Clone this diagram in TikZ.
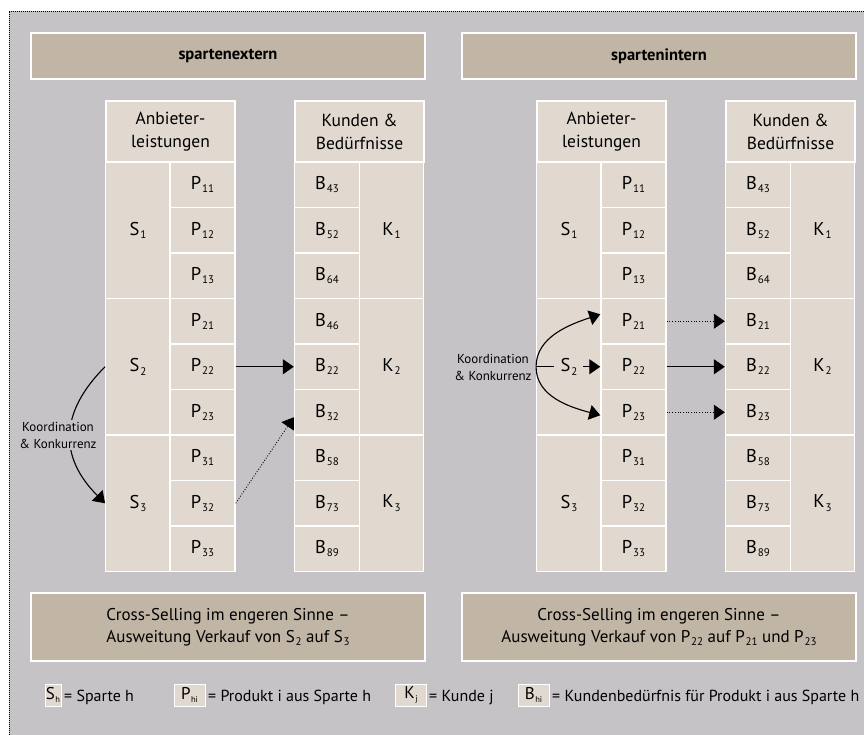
\documentclass[tikz,border=0pt]{standalone}
\usepackage{fontspec}
\setmainfont{PT Sans}
\usetikzlibrary{arrows.meta}
\definecolor{bggray}{RGB}{197,195,197}
\definecolor{tanbox}{RGB}{193,181,166}
\definecolor{cellfill}{RGB}{225,217,208}
\newcommand{\subidx}[1]{\kern0.8pt\raisebox{-3.4pt}{\fontsize{11}{11}\selectfont #1}}
\newcommand{\legidx}[1]{\kern0.5pt\raisebox{-3pt}{\fontsize{8.5}{8.5}\selectfont #1}}
\tikzset{
  cell/.style={draw=white, line width=1.4pt, fill=cellfill, inner sep=0pt,
    font=\fontsize{18.5}{23}\selectfont, align=center},
  pcell/.style={cell, minimum width=65pt, minimum height=45.5pt},
  scell/.style={cell, minimum width=64.5pt, minimum height=136.5pt},
  hcell/.style={cell, minimum width=129pt, minimum height=61pt, font=\fontsize{17.5}{23}\selectfont},
  titlebox/.style={draw=white, line width=1.4pt, fill=tanbox, minimum width=394pt, inner sep=0pt, align=center},
  legbox/.style={cell, line width=1pt, minimum height=22pt, font=\fontsize{17}{17}\selectfont},
  legtext/.style={anchor=base west, inner sep=0pt, font=\fontsize{16}{16}\selectfont},
  arr/.style={line width=1.1pt, -{Triangle[length=11pt,width=15pt]}},
  dotarr/.style={arr, line width=0.9pt, dash pattern=on 0.9pt off 1.8pt},
  note/.style={font=\fontsize{13}{17}\selectfont, align=center, inner sep=1.5pt},
  frame/.style={line width=0.8pt, dash pattern=on 0.8pt off 1.2pt}
}
\begin{document}
\begin{tikzpicture}[x=1pt, y=-1pt]
  \useasboundingbox (0,0) rectangle (864,735);
  \fill[bggray] (9,11) rectangle (864,735);
  \draw[frame] (864,11) -- (9,11) -- (9,735);
%
  \node[titlebox, minimum height=46pt, font=\bfseries\fontsize{16.5}{18}\selectfont] (ltop) at (228,56) {spartenextern};
  \node[titlebox, minimum height=46pt, font=\bfseries\fontsize{16.5}{18}\selectfont] (rtop) at (659,56) {spartenintern};
%
  \foreach \pn/\dx in {l/0, r/431} {
    \node[hcell] (\pn anb) at (170.5+\dx,131.5) {Anbieter-\\leistungen};
    \node[hcell] (\pn kun) at (359.5+\dx,131.5) {Kunden \&\\Bedürfnisse};
    \foreach \s in {1,2,3} {
      \node[scell] (\pn S\s) at (138+\dx,{162+(3*\s-1.5)*45.5}) {S\subidx{\s}};
      \node[scell] (\pn K\s) at (391.5+\dx,{162+(3*\s-1.5)*45.5}) {K\subidx{\s}};
      \foreach \p in {1,2,3}
        \node[pcell] (\pn P\s\p) at (202.5+\dx,{162+(3*\s+\p-3.5)*45.5}) {P\subidx{\s\p}};
    }
  }
  \foreach \b [count=\i] in {43,52,64,46,22,32,58,73,89}
    \node[pcell] (lB\b) at (327,{162+(\i-0.5)*45.5}) {B\subidx{\b}};
  \foreach \b [count=\i] in {43,52,64,21,22,23,58,73,89}
    \node[pcell] (rB\b) at (758,{162+(\i-0.5)*45.5}) {B\subidx{\b}};
%
  \draw[arr] (lP22.east) -- (lB22.west);
  \draw[dotarr] (lP32.east) -- ([yshift=-5pt]lB32.west);
  \draw[arr] (lS2.west) .. controls +(-46,46) and +(-46,-46) .. (lS3.west);
  \node[note, fill=bggray] (lkoo) at (58,435) {Koordination\\\& Konkurrenz};
%
  \node[note] (rkoo) at (493,367) {Koordination\\\& Konkurrenz};
  \draw[arr] (rS2.west) .. controls +(0,-30) and +(-30,10) .. ([yshift=7pt]rP21.west);
  \draw[arr] (rS2.west) .. controls +(0,30) and +(-30,-8) .. ([yshift=-3pt]rP23.west);
  \draw[line width=1.1pt] (rS2.west) -- +(18,0);
  \draw[arr] ([xshift=-17pt]rP22.west) -- (rP22.west);
  \draw[dotarr] (rP21.east) -- (rB21.west);
  \draw[arr] (rP22.east) -- (rB22.west);
  \draw[dotarr] (rP23.east) -- (rB23.west);
%
  \node[titlebox, minimum height=68pt, font=\fontsize{17}{22}\selectfont] (lbot) at (228,627)
    {Cross-Selling im engeren Sinne --\\Ausweitung Verkauf von S\subidx{2} auf S\subidx{3}};
  \node[titlebox, minimum height=68pt, font=\fontsize{17}{22}\selectfont] (rbot) at (659,627)
    {Cross-Selling im engeren Sinne --\\Ausweitung Verkauf von P\subidx{22} auf P\subidx{21} und P\subidx{23}};
%
  \node[legbox, minimum width=16pt] (legS) at (53,695) {S\legidx{h}};
  \node[legtext] (legSt) at (64,701) {= Sparte h};
  \node[legbox, minimum width=31pt] (legP) at (189.5,695) {P\legidx{hi}};
  \node[legtext] (legPt) at (208,701) {= Produkt i aus Sparte h};
  \node[legbox, minimum width=31pt] (legK) at (411,695) {K\legidx{j}};
  \node[legtext] (legKt) at (429,701) {= Kunde j};
  \node[legbox, minimum width=31pt] (legB) at (533.5,695) {B\legidx{hi}};
  \node[legtext] (legBt) at (552,701) {= Kundenbedürfnis für Produkt i aus Sparte h};
\end{tikzpicture}
\end{document}
